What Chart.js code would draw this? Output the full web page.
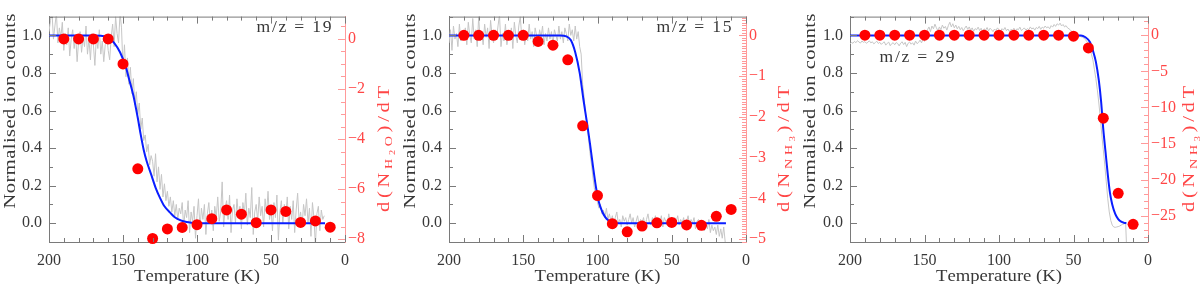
<!DOCTYPE html>
<html>
<head>
<meta charset="utf-8">
<script src="https://cdn.jsdelivr.net/npm/chart.js@4.4.1/dist/chart.umd.min.js"></script>
<style>
  body { margin: 0; background: #fff; }
  .panel { position: absolute; top: 0; width: 400px; height: 284px; }
</style>
</head>
<body>
<div class="panel" style="left:0px"><canvas id="p19" width="400" height="284"></canvas></div>
<div class="panel" style="left:400px"><canvas id="p15" width="400" height="284"></canvas></div>
<div class="panel" style="left:800px"><canvas id="p29" width="400" height="284"></canvas></div>
<script>
// ---- data ----
const xTicks = [200, 150, 100, 50, 0];
const yTicks = [0, 0.2, 0.4, 0.6, 0.8, 1.0];
const ticks19 = [0, -2, -4, -6, -8];
const ticks15 = [0, -1, -2, -3, -4, -5];
const ticks29 = [0, -5, -10, -15, -20, -25];

// red points: d(N)/dT at every 10 K
const dotTemps = [190, 180, 170, 160, 150, 140, 130, 120, 110, 100, 90, 80, 70, 60, 50, 40, 30, 20, 10];
const dots19 = [0, 0, 0, 0, -1.0, -5.19, -7.97, -7.59, -7.53, -7.42, -7.18, -6.83, -7.0, -7.34, -6.83, -6.89, -7.33, -7.27, -7.52];
const dots15 = [0, 0, 0, 0, 0, -0.15, -0.24, -0.6, -2.22, -3.93, -4.62, -4.82, -4.68, -4.6, -4.59, -4.65, -4.66, -4.44, -4.27];
const dots29 = [0, 0, 0, 0, 0, 0, 0, 0, 0, 0, 0, 0, 0, 0, -0.13, -1.76, -11.5, -21.9, -26.2];

// blue fitted curves
const fit19T = [200, 170, 165, 160, 156, 152, 148, 146, 143, 140, 138, 136, 134, 131, 128, 125, 122, 118, 115, 111, 107, 103, 100, 13.5];
const fit19 = [1, 1, 0.998, 0.99, 0.96, 0.91, 0.83, 0.77, 0.68, 0.56, 0.47, 0.39, 0.33, 0.26, 0.19, 0.135, 0.09, 0.055, 0.032, 0.015, 0.006, 0.002, 0, 0];
const fit15T = [200, 125, 121, 118, 115, 112, 109.5, 107, 105, 103, 101, 99, 97, 95, 93, 90, 87, 13.5];
const fit15 = [1, 1, 0.995, 0.975, 0.91, 0.8, 0.66, 0.53, 0.42, 0.3, 0.19, 0.11, 0.065, 0.035, 0.017, 0.004, 0, 0];
const fit29T = [200, 45, 42, 39, 37, 35, 33, 31.5, 30, 28.5, 27, 25.5, 24, 22, 20, 18, 16, 14.5];
const fit29 = [1, 1, 0.99, 0.965, 0.92, 0.86, 0.76, 0.65, 0.5, 0.38, 0.26, 0.16, 0.1, 0.05, 0.022, 0.008, 0.002, 0];

// grey measured ion counts, one value per K from 200 K down to 14 K
const grayStart = 200;
const grayStep = 1;
const gray19 = [
  1.02, 1.08, 1.13, 0.98, 1.05, 1.12, 0.96, 1.04, 0.99, 1.07,
  0.92, 1.01, 0.95, 1.04, 0.89, 0.98, 1.03, 0.93, 1.00, 0.86,
  0.97, 1.02, 0.91, 0.99, 0.94, 1.05, 0.90, 0.98, 0.87, 1.01,
  0.95, 0.84, 0.99, 0.93, 1.03, 0.90, 0.97, 0.86, 0.95, 1.00,
  0.92, 0.87, 0.99, 1.06, 0.94, 1.10, 1.01, 0.96, 1.12, 1.04,
  0.82, 0.95, 0.78, 0.88, 0.74, 0.83, 0.69, 0.77, 0.63, 0.70,
  0.58, 0.64, 0.50, 0.56, 0.44, 0.47, 0.38, 0.42, 0.31, 0.36,
  0.33, 0.25, 0.37, 0.22, 0.30, 0.18, 0.26, 0.14, 0.21, 0.12,
  0.17, 0.09, 0.14, 0.06, 0.12, 0.04, 0.10, 0.02, 0.08, 0.05,
  0.11, -0.02, 0.07, 0.03, 0.12, -0.05, 0.06, 0.01, 0.09, -0.08,
  0.04, 0.13, -0.03, 0.08, 0.02, 0.10, -0.06, 0.05, 0.11, 0.00,
  0.07, -0.04, 0.09, 0.03, 0.14, 0.01, 0.06, 0.22, -0.02, 0.08,
  0.12, 0.02, 0.15, -0.05, 0.07, 0.10, 0.00, 0.13, 0.04, 0.09,
  -0.03, 0.11, 0.05, 0.16, -0.01, 0.08, 0.03, 0.19, -0.06, 0.06,
  0.10, 0.01, 0.14, 0.04, 0.09, -0.02, 0.13, 0.05, 0.17, 0.02,
  0.08, -0.04, 0.11, 0.03, 0.15, -0.09, 0.06, 0.12, 0.00, 0.10,
  0.05, 0.14, -0.03, 0.09, 0.02, 0.12, -0.05, 0.07, 0.16, 0.01,
  0.06, -0.02, 0.10, 0.04, 0.13, 0.00, 0.08, -0.07, 0.11, 0.03,
  -0.12, 0.05, 0.09, -0.04, 0.07, 0.02, 0.04
];
const gray15 = [
  0.96, 1.03, 0.92, 1.05, 0.98, 1.01, 0.94, 1.06, 0.97, 1.02,
  0.99, 1.04, 0.95, 1.07, 1.00, 0.96, 1.09, 0.98, 1.03, 0.94,
  1.10, 0.97, 1.02, 0.95, 1.06, 0.99, 1.04, 0.93, 1.08, 1.00,
  0.96, 1.03, 0.98, 1.05, 1.11, 0.94, 1.01, 0.97, 1.06, 0.95,
  1.02, 0.98, 1.04, 0.93, 1.07, 1.00, 0.96, 1.05, 1.10, 0.99,
  1.03, 0.95, 1.01, 0.97, 1.06, 0.98, 1.02, 0.94, 1.04, 1.00,
  0.96, 1.03, 0.99, 1.05, 0.95, 1.01, 0.97, 1.04, 0.98, 1.02,
  0.95, 1.03, 1.00, 0.97, 1.05, 0.98, 1.02, 0.96, 1.04, 1.01,
  0.97, 1.06, 1.00, 1.03, 0.97, 1.05, 0.98, 1.02, 0.94, 0.90,
  0.74, 0.67, 0.58, 0.52, 0.45, 0.37, 0.31, 0.24, 0.18, 0.14,
  0.11, 0.08, 0.10, 0.05, 0.07, 0.03, 0.08, 0.02, 0.05, 0.01,
  0.04, -0.01, 0.03, 0.06, 0.00, 0.02, -0.02, 0.04, 0.01, 0.03,
  -0.01, 0.02, 0.05, 0.00, 0.03, -0.02, 0.01, 0.04, -0.01, 0.02,
  0.00, 0.03, -0.02, 0.02, 0.05, 0.00, -0.01, 0.03, 0.01, 0.04,
  -0.01, 0.02, 0.00, 0.04, -0.02, 0.03, 0.01, -0.01, 0.05, 0.00,
  0.02, -0.02, 0.03, 0.01, 0.04, -0.01, 0.02, 0.00, 0.03, -0.02,
  0.01, 0.04, -0.01, 0.02, 0.00, 0.03, -0.03, 0.01, 0.02, -0.01,
  -0.02, 0.01, -0.04, 0.00, -0.03, 0.02, -0.05, -0.01, -0.04, -0.02,
  -0.06, -0.01, -0.07, -0.03, -0.08, -0.02, -0.10
];
const gray29 = [
  0.955, 0.962, 0.958, 0.968, 0.961, 0.972, 0.965, 0.959, 0.970, 0.963,
  0.967, 0.958, 0.964, 0.971, 0.960, 0.966, 0.955, 0.962, 0.969, 0.957,
  0.963, 0.952, 0.960, 0.966, 0.948, 0.958, 0.964, 0.945, 0.956, 0.961,
  0.950, 0.962, 0.957, 0.944, 0.959, 0.966, 0.951, 0.963, 0.940, 0.958,
  0.965, 0.953, 0.961, 0.948, 0.970, 0.956, 0.962, 0.975, 0.960, 0.982,
  0.968, 0.990, 1.030, 1.045, 1.020, 1.050, 1.035, 1.060, 1.040, 1.025,
  1.045, 1.030, 1.055, 1.038, 1.048, 1.028, 1.052, 1.070, 1.045, 1.062,
  1.040, 1.055, 1.035, 1.048, 1.030, 1.042, 1.025, 1.038, 1.050, 1.032,
  1.045, 1.028, 1.040, 1.022, 1.036, 1.030, 1.044, 1.026, 1.038, 1.020,
  1.035, 1.028, 1.042, 1.024, 1.038, 1.030, 1.020, 1.034, 1.026, 1.040,
  1.030, 1.022, 1.036, 1.028, 1.042, 1.025, 1.034, 1.020, 1.032, 1.027,
  1.038, 1.024, 1.035, 1.030, 1.044, 1.026, 1.032, 1.040, 1.028, 1.036,
  1.030, 1.045, 1.034, 1.040, 1.028, 1.042, 1.036, 1.048, 1.032, 1.044,
  1.038, 1.050, 1.040, 1.046, 1.035, 1.052, 1.044, 1.058, 1.048, 1.062,
  1.055, 1.065, 1.050, 1.058, 1.045, 1.052, 1.040, 1.035, 1.028, 1.020,
  1.010, 1.004, 1.000, 0.998, 0.996, 0.993, 0.990, 0.985, 0.978, 0.966,
  0.950, 0.930, 0.900, 0.870, 0.820, 0.770, 0.710, 0.640, 0.560, 0.470,
  0.390, 0.310, 0.220, 0.130, 0.060, 0.015, -0.010, -0.020, -0.022, -0.020,
  -0.018, -0.015, -0.010, -0.006, -0.003, 0.000, -0.200
];

// ---- styling ----
const frameColor = '#7a7a7a';
const textColor = '#383838';
const redText = '#ff4646';
const redLine = '#ff9a9a';
const fontFamily = '"Liberation Serif", serif';
const tickFont = { family: fontFamily, size: 16 };

let drawTicks = function(ctx, pos, from, len, horizontal) {
  ctx.beginPath();
  if (horizontal) {
    ctx.moveTo(from, pos);
    ctx.lineTo(from + len, pos);
  } else {
    ctx.moveTo(pos, from);
    ctx.lineTo(pos, from + len);
  }
  ctx.stroke();
};

// draws text parts ([string, level]) centred on the origin; glyphs are widened
// a little (the original uses a wide vector font) and spaced out to the given width
let spacedText = function(ctx, parts, width, maxStretch) {
  const sizes = [16, 11, 8];
  const drops = [0, 3, 6];
  const chars = [];
  parts.forEach(p => {
    for (const c of p[0]) chars.push([c, p[1]]);
  });
  let natural = 0;
  chars.forEach(c => {
    ctx.font = sizes[c[1]] + 'px ' + fontFamily;
    c.push(ctx.measureText(c[0]).width);
    natural += c[2];
  });
  const stretch = Math.max(1, Math.min(maxStretch || 1.28, width / natural));
  const gap = chars.length > 1 ? (width - natural * stretch) / (chars.length - 1) : 0;
  let x = -width / 2;
  ctx.textAlign = 'left';
  ctx.textBaseline = 'alphabetic';
  chars.forEach(c => {
    ctx.font = sizes[c[1]] + 'px ' + fontFamily;
    ctx.save();
    ctx.translate(x, 5 + drops[c[1]]);
    ctx.scale(stretch, 1);
    ctx.fillText(c[0], 0, 0);
    ctx.restore();
    x += c[2] * stretch + gap;
  });
};

const framePlugin = {
  id: 'frame',
  afterDraw(chart, args, p) {
    const { ctx, chartArea: a } = chart;
    const x = chart.scales.x, y = chart.scales.y, y1 = chart.scales.y1;
    ctx.save();
    ctx.lineWidth = 1;
    ctx.strokeStyle = frameColor;
    // top border
    ctx.beginPath();
    ctx.moveTo(a.left, a.top + 0.5);
    ctx.lineTo(a.right, a.top + 0.5);
    ctx.stroke();

    // x ticks, bottom and top, pointing inward
    for (let t = 0; t <= 200; t += 10) {
      const px = Math.round(x.getPixelForValue(t)) + 0.5;
      const len = t % 50 === 0 ? 7 : 4;
      drawTicks(ctx, px, a.bottom, -len, false);
      drawTicks(ctx, px, a.top, len, false);
    }
    // left ticks
    for (let v = -1; v <= 11; v++) {
      const py = Math.round(y.getPixelForValue(v / 10)) + 0.5;
      const len = v % 2 === 0 ? 7 : 4;
      drawTicks(ctx, py, a.left, len, true);
    }
    // right ticks (red)
    ctx.strokeStyle = redLine;
    const n0 = Math.ceil(y1.min / p.minor), n1 = Math.floor(y1.max / p.minor);
    for (let k = n0; k <= n1; k++) {
      const v = k * p.minor;
      const py = Math.round(y1.getPixelForValue(v)) + 0.5;
      const isMajor = Math.abs(v / p.major - Math.round(v / p.major)) < 1e-6;
      drawTicks(ctx, py, a.right, isMajor ? -7 : -4, true);
    }

    // axis titles
    ctx.fillStyle = textColor;
    ctx.save();
    ctx.translate((a.left + a.right) / 2, 276);
    spacedText(ctx, [['Temperature (K)', 0]], 126);
    ctx.restore();

    ctx.save();
    ctx.translate(p.leftTitleX, 111);
    ctx.rotate(-Math.PI / 2);
    spacedText(ctx, [['Normalised ion counts', 0]], 195);
    ctx.restore();

    ctx.save();
    ctx.fillStyle = redText;
    ctx.translate(p.rightTitleX, 149);
    ctx.rotate(-Math.PI / 2);
    spacedText(ctx, p.rightTitle, 126);
    ctx.restore();

    // m/z label
    ctx.fillStyle = textColor;
    ctx.save();
    ctx.translate(p.labelX, p.labelY);
    spacedText(ctx, [[p.label, 0]], 75, 1.1);
    ctx.restore();
    ctx.restore();
  }
};

let makePanel = function(canvasId, p) {
  const ctx = document.getElementById(canvasId).getContext('2d');
  return new Chart(ctx, {
    type: 'line',
    data: {
      datasets: [{
        type: 'scatter',
        data: dotTemps.map((t, i) => ({ x: t, y: p.dots[i] })),
        yAxisID: 'y1',
        backgroundColor: '#ff0000',
        borderWidth: 0,
        pointRadius: 5.5,
        pointHoverRadius: 5.5,
        clip: false
      }, {
        data: p.fitT.map((t, i) => ({ x: t, y: p.fit[i] })),
        yAxisID: 'y',
        borderColor: '#0a1eff',
        borderWidth: 2,
        pointRadius: 0,
        cubicInterpolationMode: 'monotone'
      }, {
        data: p.gray.map((v, i) => ({ x: grayStart - i * grayStep, y: v })),
        yAxisID: 'y',
        borderColor: '#c6c6c6',
        borderWidth: 1,
        pointRadius: 0
      }]
    },
    options: {
      responsive: false,
      animation: false,
      devicePixelRatio: 1,
      layout: { padding: 0 },
      plugins: {
        legend: { display: false },
        tooltip: { enabled: false },
        frame: p.frame
      },
      scales: {
        x: {
          type: 'linear',
          reverse: true,
          min: 0,
          max: 200,
          position: 'bottom',
          afterBuildTicks: s => { s.ticks = xTicks.map(v => ({ value: v })); },
          afterFit: s => { s.height = 42; },
          ticks: { color: textColor, font: tickFont, padding: 9, maxRotation: 0, autoSkip: false },
          grid: { display: false, drawTicks: false },
          border: { color: frameColor }
        },
        y: {
          position: 'left',
          min: -0.1,
          max: 1.1,
          afterBuildTicks: s => { s.ticks = yTicks.map(v => ({ value: v })); },
          afterFit: s => { s.width = p.leftW; },
          ticks: { color: textColor, font: tickFont, padding: 7, callback: v => v.toFixed(1) },
          grid: { display: false, drawTicks: false },
          border: { color: frameColor }
        },
        y1: {
          position: 'right',
          min: p.rMin,
          max: p.rMax,
          afterBuildTicks: s => { s.ticks = p.rTicks.map(v => ({ value: v })); },
          afterFit: s => { s.width = p.rightW; },
          ticks: { color: redText, font: tickFont, padding: 3, callback: v => v < 0 ? '\u2212' + Math.abs(v) : String(v) },
          grid: { display: false, drawTicks: false },
          border: { color: redLine }
        }
      }
    },
    plugins: [framePlugin]
  });
};

makePanel('p19', {
  dots: dots19, fitT: fit19T, fit: fit19, gray: gray19,
  rMin: -8.11, rMax: 0.89, rTicks: ticks19, leftW: 49, rightW: 55,
  frame: { minor: 0.5, major: 2, leftTitleX: 10, rightTitleX: 384,
           rightTitle: [['d(N', 0], ['H', 1], ['2', 2], ['O', 1], [')/dT', 0]],
           label: 'm/z = 19', labelX: 294, labelY: 27 }
});
makePanel('p15', {
  dots: dots15, fitT: fit15T, fit: fit15, gray: gray15,
  rMin: -5.07, rMax: 0.46, rTicks: ticks15, leftW: 49, rightW: 54,
  frame: { minor: 0.0625, major: 1, leftTitleX: 10, rightTitleX: 384,
           rightTitle: [['d(N', 0], ['NH', 1], ['3', 2], [')/dT', 0]],
           label: 'm/z = 15', labelX: 294, labelY: 27 }
});
makePanel('p29', {
  dots: dots29, fitT: fit29T, fit: fit29, gray: gray29,
  rMin: -28.65, rMax: 2.58, rTicks: ticks29, leftW: 50, rightW: 52,
  frame: { minor: 1, major: 5, leftTitleX: 10, rightTitleX: 389,
           rightTitle: [['d(N', 0], ['NH', 1], ['3', 2], [')/dT', 0]],
           label: 'm/z = 29', labelX: 117, labelY: 57 }
});
</script>
</body>
</html>
